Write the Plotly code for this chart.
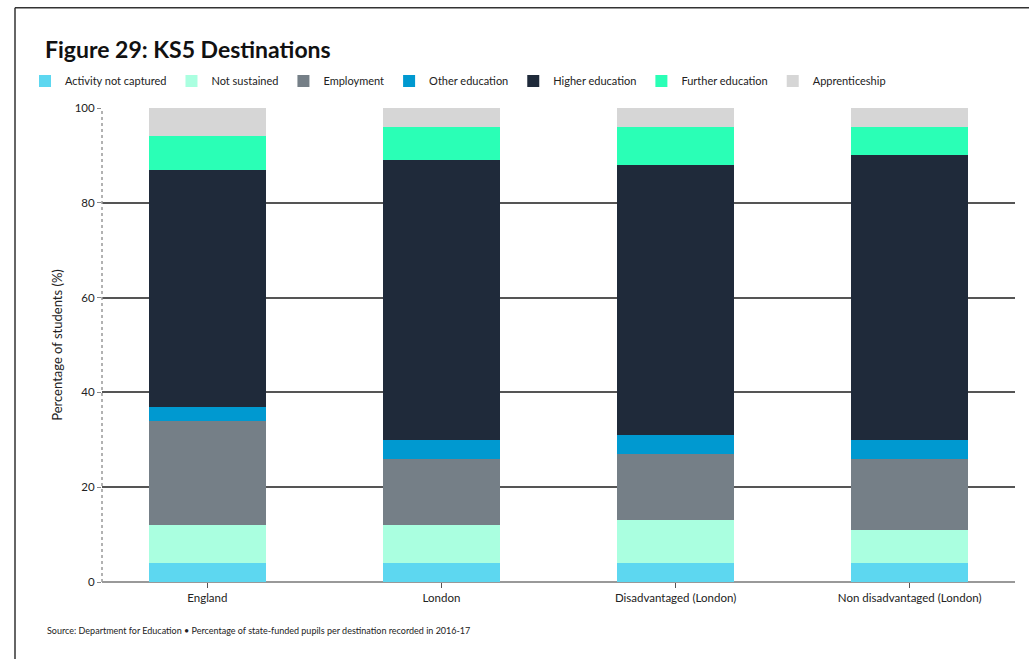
import plotly.graph_objects as go

categories = ["England", "London", "Disadvantaged (London)", "Non disadvantaged (London)"]
series_names = ["Activity not captured", "Not sustained", "Employment", "Other education",
                "Higher education", "Further education", "Apprenticeship"]
activity_not_captured = [4, 4, 4, 4]
not_sustained = [8, 8, 9, 7]
employment = [22, 14, 14, 15]
other_education = [3, 4, 4, 4]
higher_education = [50, 59, 57, 60]
further_education = [7, 7, 8, 6]
apprenticeship = [6, 4, 4, 4]
y_ticks = [0, 20, 40, 60, 80, 100]

values = [activity_not_captured, not_sustained, employment, other_education,
          higher_education, further_education, apprenticeship]
colors = ["#5dd7f0", "#aaffe0", "#757f87", "#0099d0", "#1f2a3a", "#2affb6", "#d6d6d6"]

FONT = "Lato"

fig = go.Figure()
for name, vals, col in zip(series_names, values, colors):
    fig.add_trace(go.Bar(x=categories, y=vals, name=name, marker=dict(color=col, line=dict(width=0)),
                         width=0.5))

fig.update_layout(
    barmode="stack",
    width=1029, height=659,
    margin=dict(l=102, r=14, t=108, b=77, autoexpand=False),
    paper_bgcolor="white", plot_bgcolor="white",
    font=dict(family=FONT, size=11, color="#222"),
    title=dict(text="<b>Figure 29: KS5 Destinations</b>", font=dict(family=FONT, size=23, color="#111"),
               xref="container", yref="container", x=45/1029, xanchor="left",
               y=1 - 50/659, yanchor="middle"),
    legend=dict(orientation="h", xref="container", yref="container",
                x=25/1029, xanchor="left", y=1 - 81/659, yanchor="middle",
                font=dict(size=11, color="#222"), itemwidth=30, traceorder="normal",
                tracegroupgap=0),
    showlegend=True,
)
fig.update_xaxes(range=[-0.45, 3.45], ticks="outside", ticklen=5, tickcolor="#555",
                 showline=False, showgrid=False, tickfont=dict(size=11.5, color="#222"))
fig.update_yaxes(range=[0, 100], tickvals=y_ticks, ticks="outside", ticklen=4, tickcolor="#888",
                 showgrid=True, gridcolor="#555", gridwidth=1.5, zeroline=True,
                 zerolinecolor="#999", zerolinewidth=1.5, showline=False,
                 title=dict(text="Percentage of students (%)", font=dict(size=13, color="#222"), standoff=9),
                 tickfont=dict(size=11.5, color="#222"))

# dotted y-axis line
fig.add_shape(type="line", xref="paper", yref="paper", x0=0, x1=0, y0=0, y1=1,
              line=dict(color="#999", width=1.5, dash="dot"), layer="above")
# frame lines (left and top)
fig.add_shape(type="line", xref="paper", yref="paper",
              x0=-87/913, x1=-87/913, y0=-78/473.4, y1=100/473.4 + 1,
              line=dict(color="#333", width=1.5))
fig.add_shape(type="line", xref="paper", yref="paper",
              x0=-87/913, x1=1 + 14/913, y0=100/473.4 + 1, y1=100/473.4 + 1,
              line=dict(color="#333", width=1.5))

fig.add_annotation(text="Source: Department for Education \u2022 Percentage of state-funded pupils per destination recorded in 2016-17",
                   xref="paper", yref="paper", x=-57/913, y=-(630-581.7)/473.4,
                   xanchor="left", yanchor="middle", showarrow=False,
                   font=dict(size=9, color="#222"))

fig.write_html("out.html", config={"displayModeBar": False},
               post_script="document.body.style.margin='0';document.body.style.padding='0';")
